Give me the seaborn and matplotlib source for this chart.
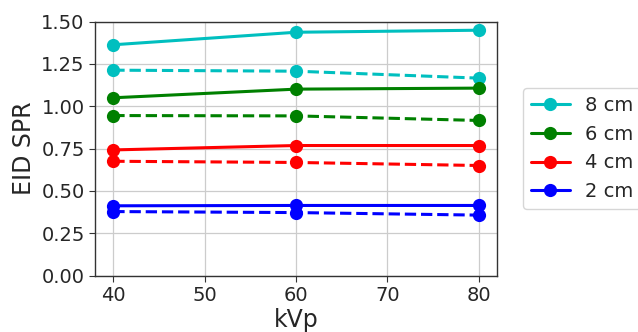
import matplotlib
matplotlib.use("Agg")
import matplotlib.pyplot as plt
import seaborn as sns
import pandas as pd

kvp = [40, 60, 80]
labels = ["8 cm", "6 cm", "4 cm", "2 cm"]
colors = ["c", "g", "r", "b"]
solid_vals = [
    [1.363, 1.437, 1.449],
    [1.050, 1.101, 1.107],
    [0.742, 0.768, 0.768],
    [0.412, 0.414, 0.414],
]
dashed_vals = [
    [1.213, 1.207, 1.166],
    [0.945, 0.943, 0.916],
    [0.675, 0.668, 0.650],
    [0.378, 0.372, 0.357],
]

sns.set_style("ticks")
plt.rcParams["font.family"] = ["DejaVu Sans"]

fig = plt.figure(figsize=(6.38, 3.32), dpi=100)
ax = fig.add_axes([0.149, 0.170, 0.630, 0.765])

handles = []
for lab, col, sv, dv in zip(labels, colors, solid_vals, dashed_vals):
    sns.lineplot(x=kvp, y=sv, ax=ax, color=col, marker="o", markersize=9.5,
                 markeredgewidth=0, linewidth=2.2, linestyle="-")
    h = ax.lines[-1]
    h.set_label(lab)
    handles.append(h)
    sns.lineplot(x=kvp, y=dv, ax=ax, color=col, marker="o", markersize=9.5,
                 markeredgewidth=0, linewidth=2.2, linestyle="--")

ax.set_ylim(0, 1.5)
ax.set_xlim(38, 82)
ax.set_yticks([0, 0.25, 0.5, 0.75, 1.0, 1.25, 1.5])
ax.set_yticklabels(["0.00", "0.25", "0.50", "0.75", "1.00", "1.25", "1.50"])
ax.set_xticks([40, 50, 60, 70, 80])
ax.grid(True, color="#cccccc", linewidth=0.9)
ax.tick_params(labelsize=14, length=4, color="#333333")
for s in ax.spines.values():
    s.set_color("#333333")
    s.set_linewidth(1.0)
ax.set_xlabel("kVp", fontsize=17, labelpad=2)
ax.set_ylabel("EID SPR", fontsize=17)

ax.legend(handles=handles, labels=labels, loc="center left",
          bbox_to_anchor=(1.065, 0.5), borderaxespad=0, fontsize=14,
          frameon=True, handlelength=2.0)

fig.savefig("out.png", dpi=100)
